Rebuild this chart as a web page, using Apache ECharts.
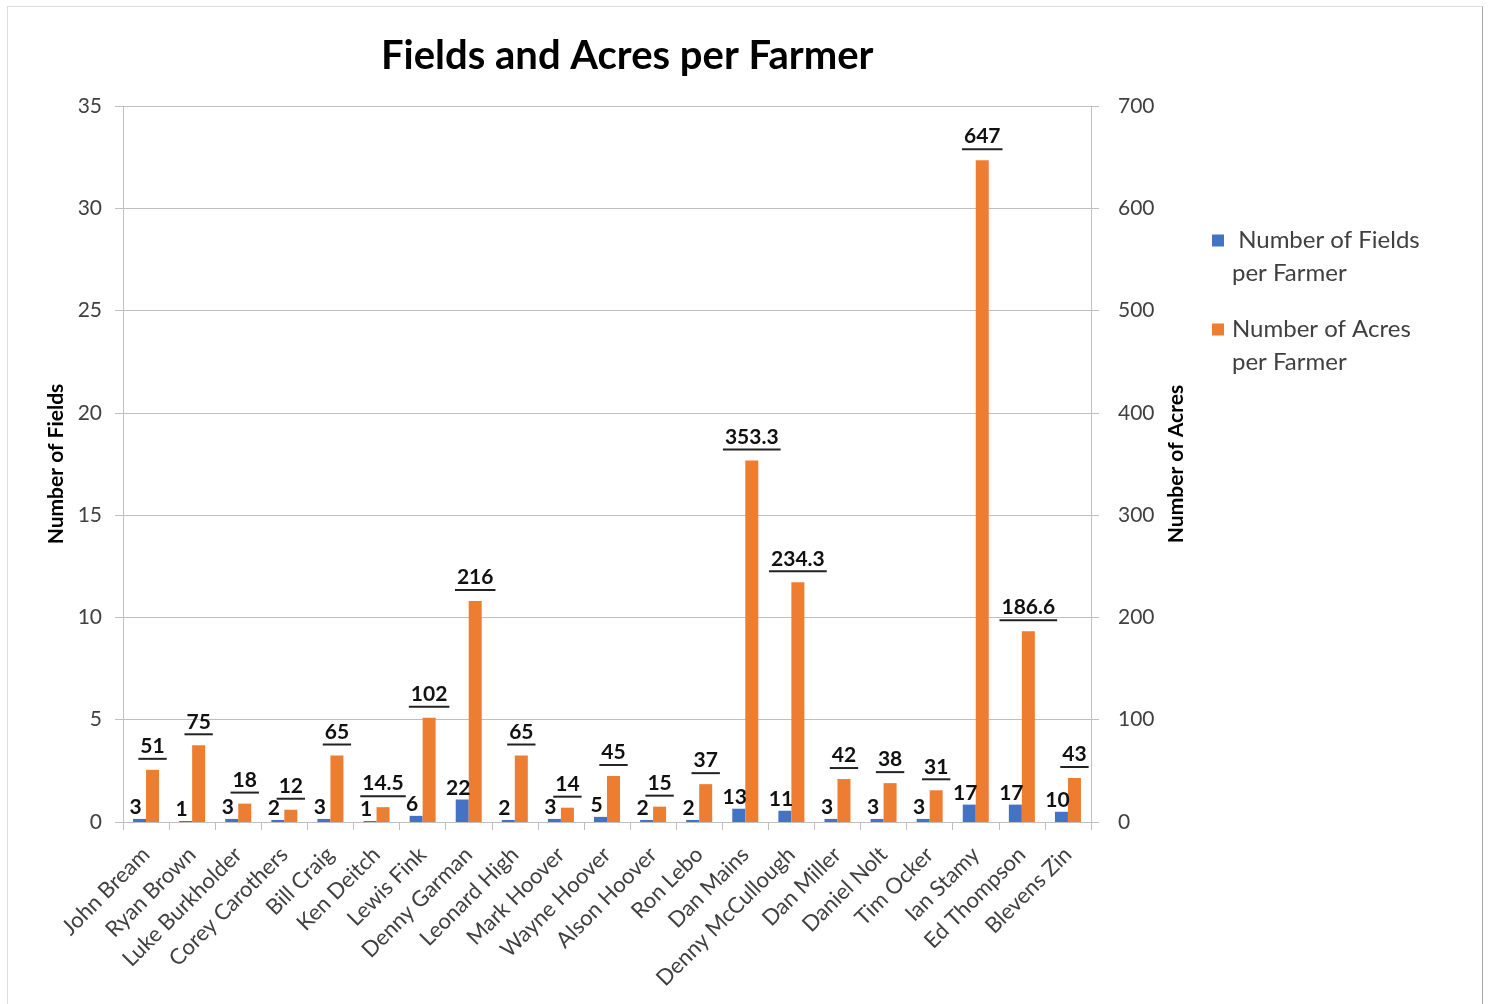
<!DOCTYPE html>
<html>
<head>
<meta charset="utf-8">
<script src="https://cdn.jsdelivr.net/npm/echarts@6/dist/echarts.min.js"></script>
<style>
html, body { margin: 0; padding: 0; background: #fff; }
#frame { position: absolute; left: 7px; top: 6px; width: 1476px; height: 1010px; border: 1px solid #dcdcdc; border-right-color: #a6a6a6; box-sizing: border-box; }
#chart { position: absolute; left: 0; top: 0; width: 1491px; height: 1004px; }
</style>
</head>
<body>
<div id="frame"></div>
<div id="chart"></div>
<script>
const farmers = ['John Bream', 'Ryan Brown', 'Luke Burkholder', 'Corey Carothers', 'Bill Craig', 'Ken Deitch', 'Lewis Fink', 'Denny Garman', 'Leonard High', 'Mark Hoover', 'Wayne Hoover', 'Alson Hoover', 'Ron Lebo', 'Dan Mains', 'Denny McCullough', 'Dan Miller', 'Daniel Nolt', 'Tim Ocker', 'Ian Stamy', 'Ed Thompson', 'Blevens Zin'];
const fieldsPerFarmer = [3, 1, 3, 2, 3, 1, 6, 22, 2, 3, 5, 2, 2, 13, 11, 3, 3, 3, 17, 17, 10];
const acresPerFarmer = [51, 75, 18, 12, 65, 14.5, 102, 216, 65, 14, 45, 15, 37, 353.3, 234.3, 42, 38, 31, 647, 186.6, 43];
const fieldsAxis = { min: 0, max: 35, interval: 5 };
const acresAxis = { min: 0, max: 700, interval: 100 };
const titleText = 'Fields and Acres per Farmer';
const seriesNames = ['Number of Fields per Farmer', 'Number of Acres per Farmer'];
const legendLabels = { 'Number of Fields per Farmer': ' Number of Fields\nper Farmer', 'Number of Acres per Farmer': 'Number of Acres\nper Farmer' };

const FONT = 'Lato, "Open Sans", sans-serif';
const titleSize = 40;
const ctx = document.createElement('canvas').getContext('2d');
ctx.font = 'bold ' + titleSize + 'px Lato';
const titleW = ctx.measureText(titleText).width;

const chart = echarts.init(document.getElementById('chart'), null, { renderer: 'canvas' });
const gridLine = '#bfbfbf';
const option = {
  backgroundColor: 'transparent',
  animation: false,
  textStyle: { fontFamily: FONT },
  title: {
    text: titleText,
    left: Math.round(622 - titleW / 2),
    top: 31,
    textStyle: { fontFamily: FONT, fontSize: titleSize, fontWeight: 'bold', color: '#000' }
  },
  legend: {
    orient: 'vertical',
    left: 1212,
    top: 224,
    padding: 0,
    itemWidth: 12,
    itemHeight: 45,
    itemGap: 23,
    icon: 'path://M0,0H12V12H0Z M0,44.99H0.01V45H0Z',
    formatter: function (n) { return legendLabels[n]; },
    textStyle: { fontFamily: FONT, fontSize: 24, color: '#404040', lineHeight: 33, padding: [0, 0, 0, 3] },
    data: seriesNames
  },
  grid: { left: 123, right: 400, top: 106, bottom: 182, containLabel: false },
  xAxis: {
    type: 'category',
    data: farmers,
    boundaryGap: true,
    axisLine: { show: true, lineStyle: { color: gridLine, width: 1 } },
    axisTick: { show: true, length: 8, alignWithLabel: false, lineStyle: { color: gridLine } },
    axisLabel: { interval: 0, rotate: 45, fontSize: 22, color: '#404040', margin: 29, fontFamily: FONT }
  },
  yAxis: [
    {
      type: 'value',
      position: 'left',
      min: fieldsAxis.min, max: fieldsAxis.max, interval: fieldsAxis.interval,
      name: 'Number of Fields',
      nameLocation: 'middle',
      nameGap: 55,
      nameRotate: 90,
      nameTextStyle: { fontFamily: FONT, fontSize: 21, fontWeight: 'bold', color: '#000' },
      axisLine: { show: true, lineStyle: { color: gridLine } },
      axisTick: { show: true, length: 8, lineStyle: { color: gridLine } },
      axisLabel: { fontSize: 21, color: '#404040', margin: 21, fontFamily: FONT },
      splitLine: { show: true, lineStyle: { color: gridLine, width: 1 } }
    },
    {
      type: 'value',
      position: 'right',
      min: acresAxis.min, max: acresAxis.max, interval: acresAxis.interval,
      name: 'Number of Acres',
      nameLocation: 'middle',
      nameGap: 73,
      nameRotate: 90,
      nameTextStyle: { fontFamily: FONT, fontSize: 21, fontWeight: 'bold', color: '#000' },
      axisLine: { show: true, lineStyle: { color: gridLine } },
      axisTick: { show: true, length: 8, lineStyle: { color: gridLine } },
      axisLabel: { fontSize: 21, color: '#404040', margin: 27, fontFamily: FONT },
      splitLine: { show: false }
    }
  ],
  series: [
    {
      name: seriesNames[0],
      type: 'bar',
      yAxisIndex: 1,
      data: fieldsPerFarmer,
      barWidth: 13,
      barGap: '0%',
      itemStyle: { color: '#4472C4' },
      label: {
        show: true, position: 'top', distance: 1, offset: [-4, 0],
        fontFamily: FONT, fontSize: 21, fontWeight: 'bold', color: '#111'
      }
    },
    {
      name: seriesNames[1],
      type: 'bar',
      yAxisIndex: 1,
      data: acresPerFarmer,
      barWidth: 13,
      barGap: '0%',
      itemStyle: { color: '#ED7D31' },
      label: {
        show: true, position: 'top', distance: 10,
        formatter: function (p) { return '{v|' + p.value + '}\n{u|}'; },
        rich: {
          v: { fontFamily: FONT, fontSize: 21, fontWeight: 'bold', color: '#111', lineHeight: 23, padding: [0, 2, 0, 2] },
          u: { width: '100%', height: 2, lineHeight: 2, backgroundColor: '#222', align: 'left' }
        }
      }
    }
  ]
};
chart.setOption(option);
</script>
</body>
</html>
